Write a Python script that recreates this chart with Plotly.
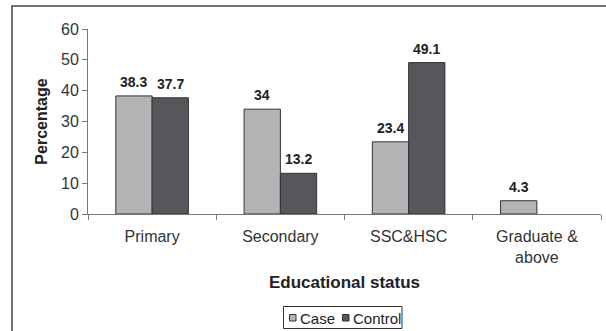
import plotly.graph_objects as go

categories = ["Primary", "Secondary", "SSC&HSC", "Graduate &<br>above"]
case_vals = [38.3, 34, 23.4, 4.3]
control_vals = [37.7, 13.2, 49.1, None]
case_labels = ["38.3", "34", "23.4", "4.3"]
control_labels = ["37.7", "13.2", "49.1", ""]
y_ticks = [0, 10, 20, 30, 40, 50, 60]
series_names = ["Case", "Control"]
series_colors = ["#b3b4b6", "#56575a"]

FONT = "Liberation Sans, Arial, sans-serif"
W, H = 606, 331
L, R, T, B = 88, 5, 29, 117
pw, ph = W - L - R, H - T - B
BAR_OFFSET = 18.15  # half of one bar width in px (group of two bars)

fig = go.Figure()
series = [
    (series_names[0], case_vals, case_labels, series_colors[0], -BAR_OFFSET),
    (series_names[1], control_vals, control_labels, series_colors[1], BAR_OFFSET),
]
for name, vals, labels, color, off in series:
    fig.add_trace(go.Bar(
        name=name, x=categories, y=vals,
        marker=dict(color=color, line=dict(color="#333333", width=1)),
        showlegend=False,
    ))
    for cat, v, lab in zip(categories, vals, labels):
        if v is None or not lab:
            continue
        fig.add_annotation(x=cat, y=v, xref="x", yref="y", xshift=off,
                           yanchor="bottom", yshift=4, showarrow=False,
                           text="<b>%s</b>" % lab,
                           font=dict(family=FONT, size=14, color="#222222"))

def px_x(px):
    return (px - L) / pw

def px_y(py):
    return (H - B - py) / ph

# outer chart frame
fig.add_shape(type="rect", xref="paper", yref="paper",
              x0=px_x(12), x1=px_x(620), y0=px_y(345), y1=px_y(6),
              line=dict(color="#444444", width=1.5), layer="below")

# legend box
fig.add_shape(type="rect", xref="paper", yref="paper",
              x0=px_x(283.5), x1=px_x(402), y0=px_y(328.5), y1=px_y(306.5),
              line=dict(color="#333333", width=1))
legend_items = [(289.5, 297.5), (342.5, 351)]
for (sx, tx), name, color in zip(legend_items, series_names, series_colors):
    fig.add_shape(type="rect", xref="paper", yref="paper",
                  x0=px_x(sx), x1=px_x(sx + 6.5), y0=px_y(321), y1=px_y(314.5),
                  line=dict(color="#333333", width=1), fillcolor=color)
    fig.add_annotation(xref="paper", yref="paper", x=px_x(tx), y=px_y(318),
                       xanchor="left", yanchor="middle", showarrow=False,
                       text=name, font=dict(family=FONT, size=15, color="#222222"))

fig.update_layout(
    width=W, height=H,
    margin=dict(l=L, r=R, t=T, b=B, pad=0, autoexpand=False),
    paper_bgcolor="white", plot_bgcolor="white",
    barmode="group", bargap=0.434, bargroupgap=0,
    font=dict(family=FONT, size=16, color="#333333"),
    showlegend=False,
    xaxis=dict(
        automargin=False,
        showline=True, linecolor="#777777", linewidth=1,
        ticks="outside", ticklen=5, tickcolor="#777777",
        tickson="boundaries", ticklabelstandoff=8,
        tickfont=dict(family=FONT, size=16, color="#333333"),
        title=dict(text="<b>Educational status</b>",
                   font=dict(family=FONT, size=17, color="#222222"),
                   standoff=11),
    ),
    yaxis=dict(
        automargin=False,
        range=[0, 60], tickvals=y_ticks,
        showline=True, linecolor="#777777", linewidth=1,
        ticks="outside", ticklen=5, tickcolor="#777777",
        showgrid=False, zeroline=False,
        tickfont=dict(family=FONT, size=16, color="#333333"),
        title=dict(text="<b>Percentage</b>",
                   font=dict(family=FONT, size=16, color="#222222"),
                   standoff=9),
    ),
)

fig.write_html("out.html")
